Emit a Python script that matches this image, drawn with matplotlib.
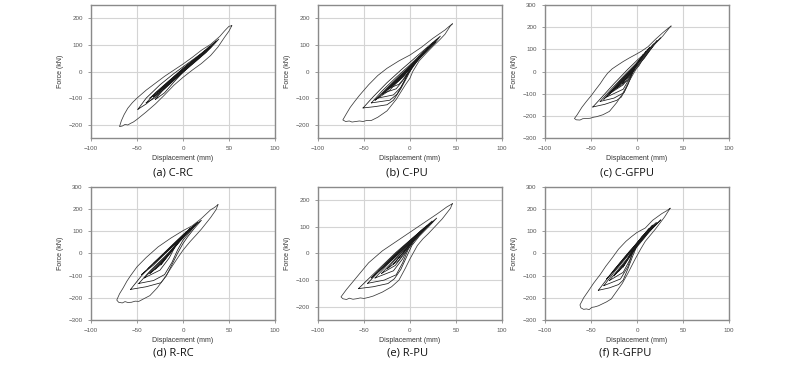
import matplotlib.pyplot as plt

# ---- outer (largest) cycle of each specimen: upper branch then lower branch ----
c_rc_outer_d = [53, 50, 45, 40, 30, 20, 10, 0, -10, -20, -30, -40, -50, -55, -60, -64, -67, -69,
                -66, -63, -60, -57, -54, -50, -45, -40, -30, -20, -10, 0, 10, 20, 30, 38, 45, 50, 53]
c_rc_outer_f = [172, 170, 152, 132, 102, 80, 53, 28, 5, -18, -44, -70, -100, -117, -138, -162, -185, -207,
                -205, -199, -201, -195, -190, -180, -166, -152, -122, -88, -52, -22, 5, 30, 60, 92, 128, 152, 172]

c_pu_outer_d = [46, 42, 38, 25, 12, 0, -12, -25, -35, -45, -55, -60, -65, -69, -73,
                -70, -66, -63, -59, -55, -51, -47, -42, -35, -25, -15, -5, 0, 3, 10, 18, 25, 32, 38, 44, 46]
c_pu_outer_f = [179, 168, 156, 125, 90, 62, 40, 12, -15, -50, -90, -112, -135, -158, -182,
                -188, -186, -190, -188, -186, -188, -184, -184, -172, -148, -105, -50, -25, 0, 40, 70, 95, 118, 140, 172, 179]

c_gfpu_outer_d = [37, 33, 28, 20, 12, 5, 0, -8, -15, -22, -27, -32, -36, -40, -45, -50, -55, -60, -65, -68,
                  -66, -62, -59, -55, -51, -47, -44, -37, -30, -22, -15, -8, 0, 5, 10, 17, 28, 35, 37]
c_gfpu_outer_f = [205, 192, 175, 145, 112, 92, 80, 62, 45, 26, 12, -8, -30, -55, -82, -110, -135, -162, -195, -212,
                  -218, -219, -213, -212, -211, -206, -204, -195, -180, -140, -95, -40, 18, 50, 82, 115, 160, 196, 205]

r_rc_outer_d = [38, 34, 30, 20, 10, 0, -13, -27, -40, -50, -57, -61, -65, -69, -72,
                -70, -66, -63, -60, -56, -52, -48, -43, -36, -28, -20, -13, -5, 0, 8, 14, 20, 30, 36, 38]
r_rc_outer_f = [220, 207, 197, 158, 125, 103, 70, 30, -18, -60, -100, -125, -155, -182, -210,
                -220, -223, -217, -221, -220, -215, -216, -205, -190, -155, -110, -65, -15, 15, 55, 82, 110, 162, 198, 220]

r_pu_outer_d = [46, 40, 30, 15, 0, -15, -30, -45, -57, -63, -69, -75,
                -73, -69, -66, -62, -58, -54, -50, -45, -40, -30, -20, -12, -5, 0, 8, 14, 20, 35, 44, 46]
r_pu_outer_f = [187, 175, 150, 115, 80, 45, 10, -35, -85, -110, -135, -163,
                -170, -173, -168, -172, -170, -167, -169, -165, -160, -145, -125, -100, -55, -20, 30, 55, 75, 130, 170, 187]

r_gfpu_outer_d = [36, 32, 27, 17, 9, 0, -6, -12, -20, -27, -34, -40, -47, -53, -58, -62,
                  -61, -58, -55, -52, -49, -46, -42, -38, -33, -28, -22, -16, -10, -2, 4, 9, 15, 20, 30, 36]
r_gfpu_outer_f = [204, 192, 180, 150, 115, 95, 76, 55, 20, -20, -58, -95, -133, -170, -200, -232,
                  -245, -252, -250, -253, -243, -241, -236, -228, -218, -205, -170, -135, -90, -25, 20, 55, 85, 110, 165, 204]

# ---- smaller cycles (displacement list, force list) ----
c_rc_inner = [
    ([-49, -40, -25, -10, 5, 20, 32, 39, 30, 18, 5, -10, -25, -40, -49],
     [-142, -100, -50, -8, 30, 68, 102, 122, 88, 50, 12, -32, -78, -122, -142]),
    ([-40, -30, -15, 0, 15, 27, 34, 25, 12, 0, -15, -30, -40],
     [-118, -80, -35, 8, 50, 85, 108, 72, 35, 0, -48, -98, -118]),
    ([-32, -20, -5, 10, 22, 29, 20, 8, -5, -20, -32],
     [-95, -55, -8, 35, 72, 95, 60, 22, -18, -65, -95]),
    ([-26, -15, 0, 14, 24, 14, 0, -15, -26],
     [-75, -38, 10, 48, 80, 40, 2, -48, -75]),
    ([-20, -8, 5, 18, 6, -8, -20],
     [-55, -18, 22, 62, 16, -26, -55]),
    ([-14, 0, 12, 0, -14],
     [-38, 8, 45, 0, -38]),
    ([-30, -22, -12, 0, 12, 25, 36, 28, 15, 2, -10, -20, -30],
     [-105, -70, -35, 5, 40, 78, 115, 85, 45, 5, -40, -80, -105]),
    ([-36, -20, -5, 10, 25, 33, 25, 10, -5, -20, -36],
     [-100, -50, -5, 38, 80, 104, 72, 30, -14, -60, -100]),
    ([-28, -15, 0, 15, 26, 15, 0, -15, -28],
     [-78, -35, 12, 52, 84, 44, 0, -45, -78]),
    ([-22, -10, 5, 20, 8, -5, -22],
     [-60, -22, 25, 66, 25, -18, -60]),
]

c_pu_inner = [
    ([-51, -40, -25, -10, 5, 20, 33, 25, 12, 3, -3, -10, -18, -25, -38, -51],
     [-137, -95, -42, 5, 50, 95, 133, 98, 55, 22, -20, -65, -108, -125, -132, -137]),
    ([-42, -30, -15, 0, 15, 29, 20, 8, 0, -6, -14, -22, -42],
     [-118, -72, -22, 25, 75, 120, 88, 45, 15, -35, -85, -108, -118]),
    ([-35, -22, -8, 8, 25, 15, 4, -3, -10, -18, -35],
     [-100, -55, -8, 45, 108, 70, 30, -15, -60, -88, -100]),
    ([-28, -15, 0, 20, 8, 0, -8, -15, -28],
     [-80, -38, 12, 92, 45, 5, -35, -65, -80]),
    ([-22, -8, 5, 15, 5, -5, -12, -22],
     [-62, -18, 35, 75, 25, -20, -48, -62]),
    ([-15, 0, 10, 0, -15],
     [-42, 12, 58, 0, -42]),
    ([-38, -25, -10, 5, 20, 28, 18, 5, -8, -22, -38],
     [-108, -62, -12, 38, 88, 112, 78, 30, -18, -70, -108]),
    ([-30, -18, -5, 10, 22, 12, 0, -12, -30],
     [-85, -42, 2, 52, 95, 55, 10, -35, -85]),
    ([-24, -12, 2, 17, 5, -8, -24],
     [-66, -25, 22, 78, 28, -20, -66]),
    ([-18, -5, 12, 2, -18],
     [-48, 0, 62, 18, -48]),
]

c_gfpu_inner = [
    ([-48, -38, -25, -10, 0, 12, 26, 18, 8, 0, -5, -10, -17, -22, -35, -48],
     [-160, -115, -55, 10, 50, 95, 152, 118, 75, 40, -5, -60, -115, -130, -148, -160]),
    ([-40, -28, -12, 0, 12, 22, 14, 4, -2, -8, -14, -25, -40],
     [-135, -80, -10, 40, 90, 140, 105, 60, 20, -40, -95, -120, -135]),
    ([-33, -20, -5, 8, 18, 8, 0, -8, -15, -33],
     [-115, -55, 10, 68, 125, 75, 35, -30, -80, -115]),
    ([-28, -15, 0, 14, 3, -8, -15, -28],
     [-95, -35, 35, 110, 55, -20, -60, -95]),
    ([-22, -8, 10, 0, -10, -22],
     [-75, -10, 92, 35, -40, -75]),
    ([-16, 0, 7, -3, -16],
     [-55, 35, 78, 15, -55]),
    ([-36, -25, -12, 0, 10, 20, 12, 2, -10, -24, -36],
     [-125, -78, -25, 25, 72, 128, 88, 45, -8, -68, -125]),
    ([-30, -18, -5, 8, 16, 6, -5, -18, -30],
     [-102, -55, 0, 60, 112, 62, 15, -40, -102]),
    ([-24, -12, 2, 12, 2, -10, -24],
     [-80, -35, 25, 95, 40, -10, -80]),
]

r_rc_inner = [
    ([-57, -45, -30, -15, 0, 10, 20, 12, 5, 0, -6, -12, -18, -24, -40, -57],
     [-162, -100, -35, 25, 85, 120, 150, 112, 75, 45, 0, -50, -100, -132, -150, -162]),
    ([-48, -35, -20, -5, 8, 16, 8, 0, -6, -12, -20, -32, -48],
     [-135, -75, -15, 50, 105, 140, 100, 60, 15, -40, -95, -122, -135]),
    ([-42, -28, -12, 0, 12, 2, -8, -15, -25, -42],
     [-110, -50, 15, 70, 128, 85, 35, -20, -75, -110]),
    ([-36, -22, -8, 8, -2, -12, -24, -36],
     [-90, -30, 35, 115, 65, 10, -50, -90]),
    ([-30, -15, 4, -8, -20, -30],
     [-70, 0, 100, 40, -25, -70]),
    ([-24, -10, 2, -8, -24],
     [-50, 25, 88, 35, -50]),
    ([-45, -32, -18, -5, 8, 15, 6, -6, -18, -32, -45],
     [-95, -45, 10, 62, 112, 138, 100, 52, 5, -52, -95]),
    ([-38, -25, -12, 2, 12, 2, -10, -24, -38],
     [-68, -18, 35, 88, 124, 85, 38, -15, -68]),
    ([-32, -18, -5, 8, -2, -14, -32],
     [-45, 10, 62, 112, 72, 22, -45]),
]

r_pu_inner = [
    ([-56, -45, -30, -15, 0, 15, 29, 20, 10, 2, -4, -10, -17, -24, -40, -56],
     [-132, -95, -45, 5, 50, 92, 133, 100, 65, 30, -15, -60, -95, -113, -125, -132]),
    ([-46, -32, -15, 0, 12, 25, 15, 5, -2, -8, -15, -28, -46],
     [-112, -60, -5, 45, 85, 120, 88, 52, 15, -35, -80, -100, -112]),
    ([-38, -24, -8, 8, 21, 10, 0, -8, -18, -38],
     [-92, -40, 15, 68, 108, 70, 35, -20, -65, -92]),
    ([-31, -16, 0, 17, 5, -6, -16, -31],
     [-75, -20, 40, 95, 50, 0, -45, -75]),
    ([-25, -10, 13, 0, -12, -25],
     [-58, 0, 82, 35, -25, -58]),
    ([-18, -5, 9, -3, -18],
     [-40, 15, 70, 20, -40]),
    ([-42, -30, -15, 0, 12, 24, 14, 2, -12, -28, -42],
     [-92, -48, 2, 48, 86, 122, 88, 48, 0, -50, -92]),
    ([-34, -20, -5, 10, 19, 8, -5, -20, -34],
     [-66, -18, 32, 80, 106, 68, 25, -25, -66]),
    ([-27, -14, 2, 15, 4, -10, -27],
     [-42, 2, 55, 94, 55, 10, -42]),
]

r_gfpu_inner = [
    ([-42, -32, -20, -8, 5, 15, 26, 18, 8, 0, -5, -10, -15, -20, -30, -42],
     [-166, -112, -50, 10, 65, 108, 152, 118, 75, 35, -15, -70, -120, -140, -155, -166]),
    ([-36, -25, -10, 5, 22, 12, 2, -5, -10, -18, -36],
     [-145, -85, -10, 58, 140, 98, 50, 0, -60, -115, -145]),
    ([-30, -18, -5, 8, 18, 8, -2, -8, -15, -30],
     [-122, -60, 5, 70, 125, 80, 30, -30, -85, -122]),
    ([-25, -12, 0, 14, 2, -8, -15, -25],
     [-100, -35, 35, 110, 55, -10, -60, -100]),
    ([-20, -8, 10, -2, -12, -20],
     [-80, -15, 95, 35, -35, -80]),
    ([-15, -3, 6, -5, -15],
     [-60, 15, 80, 15, -60]),
    ([-33, -22, -10, 2, 14, 21, 12, 0, -12, -22, -33],
     [-115, -60, 0, 58, 115, 140, 100, 45, -15, -65, -115]),
    ([-27, -15, -3, 10, 17, 8, -4, -15, -27],
     [-85, -25, 32, 95, 128, 85, 25, -30, -85]),
    ([-22, -10, 3, 13, 2, -10, -22],
     [-62, -2, 62, 112, 58, -5, -62]),
]

captions = ["(a) C-RC", "(b) C-PU", "(c) C-GFPU", "(d) R-RC", "(e) R-PU", "(f) R-GFPU"]
outers = [(c_rc_outer_d, c_rc_outer_f), (c_pu_outer_d, c_pu_outer_f), (c_gfpu_outer_d, c_gfpu_outer_f),
          (r_rc_outer_d, r_rc_outer_f), (r_pu_outer_d, r_pu_outer_f), (r_gfpu_outer_d, r_gfpu_outer_f)]
inners = [c_rc_inner, c_pu_inner, c_gfpu_inner, r_rc_inner, r_pu_inner, r_gfpu_inner]
y_limits = [250, 250, 300, 300, 250, 300]

# axes boxes in pixels (left, top) on the 800x366 canvas
ax_left_px = [91, 318, 545, 91, 318, 545]
ax_top_px = [5, 5, 5, 187, 187, 187]
caption_x_px = [173, 407, 627, 173, 408, 625]
caption_y_px = [173, 173, 173, 353, 353, 353]

W, H = 800, 366
fig = plt.figure(figsize=(8, 3.66), dpi=100)
fig.patch.set_facecolor("white")

for i in range(6):
    ax = fig.add_axes([ax_left_px[i] / W, 1 - (ax_top_px[i] + 133) / H, 184 / W, 133 / H])
    lim = y_limits[i]
    top_tick = (lim // 100) * 100
    ax.set_xlim(-100, 100)
    ax.set_ylim(-lim, lim)
    ax.set_xticks([-100, -50, 0, 50, 100])
    ax.set_yticks(list(range(-top_tick, top_tick + 1, 100)))
    ax.grid(True, color="#d4d4d4", linewidth=0.8)
    ax.set_axisbelow(True)
    for sp in ax.spines.values():
        sp.set_color("#8a8a8a")
        sp.set_linewidth(1.0)
    ax.tick_params(direction="out", length=2, width=0.6, color="#8a8a8a",
                   labelsize=4.5, labelcolor="#555555", pad=4)
    for lbl in ax.get_xticklabels() + ax.get_yticklabels():
        lbl.set_fontfamily("Liberation Sans")

    for d, f in inners[i]:
        ax.plot(d, f, color="#1a1a1a", linewidth=0.55)
    od, of = outers[i]
    ax.plot(od, of, color="#3a3a3a", linewidth=0.55)

    ax.set_xlabel("Displacement (mm)", fontsize=5, color="#333333",
                  fontfamily="Liberation Sans", labelpad=3)
    ax.set_ylabel("Force (kN)", fontsize=5, color="#333333",
                  fontfamily="Liberation Sans", labelpad=3)

    fig.text(caption_x_px[i] / W, 1 - caption_y_px[i] / H, captions[i],
             ha="center", va="center", fontsize=8, fontfamily="Open Sans", color="#111111")

fig.savefig("out.png", dpi=100, facecolor="white")
